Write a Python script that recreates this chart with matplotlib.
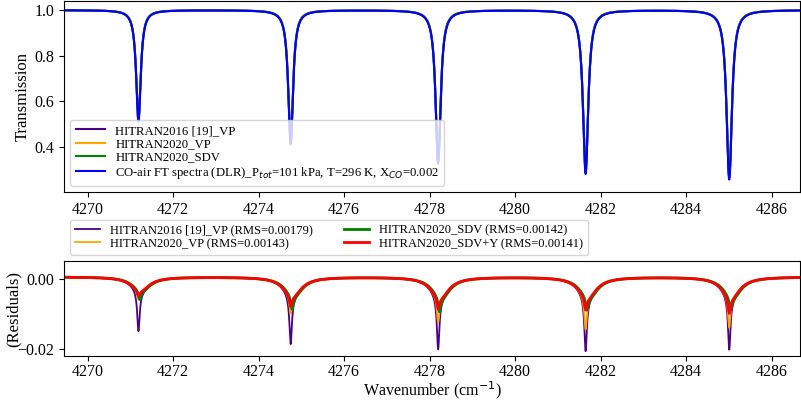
import numpy as np
import matplotlib
matplotlib.use("Agg")
from matplotlib import pyplot as plt

plt.rcParams['font.family'] = ['Liberation Serif', 'DejaVu Serif']
plt.rcParams['mathtext.fontset'] = 'dejavusans'

# line positions (cm-1) and transmission at line centre
centers = [4271.19, 4274.75, 4278.20, 4281.65, 4285.01]
trans_min = [0.51, 0.41, 0.325, 0.28, 0.255]
hwhm = 0.055

# residual at each line centre (total) and the broad wing part of it
res_2016_vp = [-0.0155, -0.0192, -0.0207, -0.0212, -0.0208]
res_2020_vp = [-0.0065, -0.0105, -0.0130, -0.0150, -0.0145]
res_2020_sdv = [-0.0065, -0.0092, -0.0100, -0.0095, -0.0095]
res_2020_sdvy = [-0.0055, -0.0085, -0.0092, -0.0095, -0.0105]
wing_depth = [-0.0040, -0.0055, -0.0060, -0.0060, -0.0060]
baseline = 0.0005

labels_top = ['HITRAN2016 [19]_VP', 'HITRAN2020_VP', 'HITRAN2020_SDV',
              'CO-air FT spectra (DLR)_P$_{tot}$=101 kPa, T=296 K, X$_{CO}$=0.002']
labels_bot = ['HITRAN2016 [19]_VP (RMS=0.00179)', 'HITRAN2020_VP (RMS=0.00143)',
              'HITRAN2020_SDV (RMS=0.00142)', 'HITRAN2020_SDV+Y (RMS=0.00141)']
c_purple, c_orange, c_green, c_blue, c_red = '#4b0082', 'orange', 'green', 'blue', 'red'

x = np.linspace(4269.45, 4286.67, 6000)


def lor(x0, g):
    return g**2 / ((x - x0)**2 + g**2)


def transmission(tmins):
    tau = np.zeros_like(x)
    for c, t in zip(centers, tmins):
        tau += -np.log(t) * lor(c, hwhm)
    return np.exp(-tau)


def residual(total, shift=0.0):
    r = np.full_like(x, baseline)
    for c, d, w in zip(centers, total, wing_depth):
        r += (d - w) * lor(c + shift, 0.035) + w * lor(c + shift + 0.04, 0.25)
    return r


t_obs = transmission(trans_min)
# models sit under the measured curve in the top panel
t_2016 = t_obs - residual(res_2016_vp) + baseline
t_2020 = t_obs - residual(res_2020_vp) + baseline
t_sdv = t_obs - residual(res_2020_sdv) + baseline

fig = plt.figure(figsize=(8.01, 4.01), dpi=100)
ax1 = fig.add_axes([0.080, 0.521, 0.919, 0.4765])
ax2 = fig.add_axes([0.080, 0.112, 0.919, 0.237])

ax1.plot(x, t_2016, color=c_purple, lw=1.5, label=labels_top[0])
ax1.plot(x, t_2020, color=c_orange, lw=1.5, label=labels_top[1])
ax1.plot(x, t_sdv, color=c_green, lw=1.5, label=labels_top[2])
ax1.plot(x, t_obs, color=c_blue, lw=1.5, label=labels_top[3])
ax1.set_xlim(4269.45, 4286.67)
ax1.set_ylim(0.20, 1.04)
ax1.set_xticks(np.arange(4270, 4287, 2))
ax1.set_yticks([0.4, 0.6, 0.8, 1.0])
ax1.set_ylabel('Transmission', fontsize=12)
ax1.yaxis.set_label_coords(-0.045, 0.5)
ax1.tick_params(labelsize=11.5)
ax1.legend(loc='lower left', fontsize=9.2, labelspacing=0.1, handlelength=2.3)

ax2.plot(x, residual(res_2016_vp), color=c_purple, lw=1.3, label=labels_bot[0])
ax2.plot(x, residual(res_2020_vp), color=c_orange, lw=1.3, label=labels_bot[1])
ax2.plot(x, residual(res_2020_sdv, 0.03), color=c_green, lw=2.0, label=labels_bot[2])
ax2.plot(x, residual(res_2020_sdvy, 0.0), color=c_red, lw=2.0, label=labels_bot[3])
ax2.set_xlim(4269.45, 4286.67)
ax2.set_ylim(-0.022, 0.005)
ax2.set_xticks(np.arange(4270, 4287, 2))
ax2.set_yticks([-0.02, 0.0])
ax2.set_ylabel('(Residuals)', fontsize=12)
ax2.yaxis.set_label_coords(-0.058, 0.5)
ax2.set_xlabel('Wavenumber (cm$^{-1}$)', fontsize=11.5)
ax2.xaxis.set_label_coords(0.5, -0.245)
ax2.tick_params(labelsize=11.5)
ax2.tick_params(axis='x', pad=2)
ax2.legend(loc='lower left', bbox_to_anchor=(0, 1.0), ncol=2, fontsize=9,
           labelspacing=0.1, columnspacing=2.5, handlelength=2.0)

fig.savefig('out.png', dpi=100)
